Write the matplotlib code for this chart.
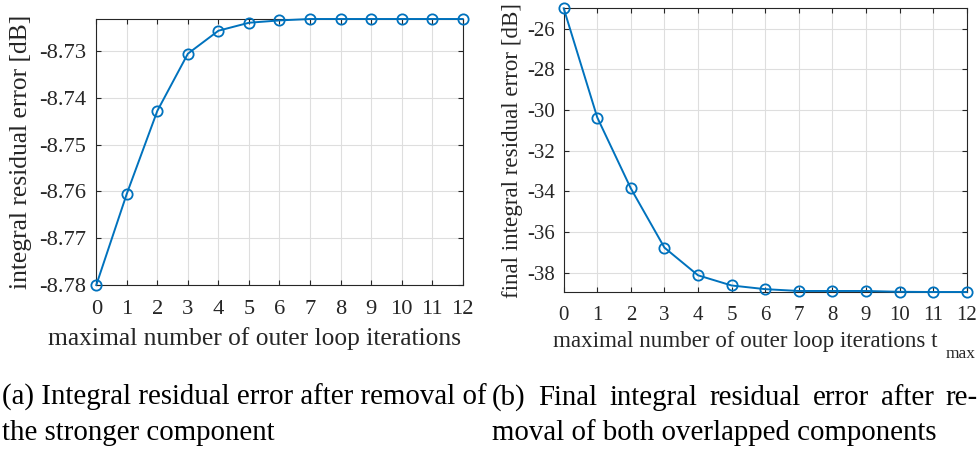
import matplotlib
matplotlib.use('Agg')
import matplotlib.pyplot as plt

# data
iters = list(range(13))
err_a = [-8.7800, -8.7605, -8.7428, -8.7306, -8.7257, -8.7240, -8.7235,
         -8.7232, -8.7232, -8.7232, -8.7232, -8.7232, -8.7232]
err_b = [-25.00, -30.37, -33.86, -36.77, -38.13, -38.63, -38.81,
         -38.90, -38.90, -38.90, -38.94, -38.95, -38.95]
yticks_a = [-8.78, -8.77, -8.76, -8.75, -8.74, -8.73]
yticks_b = [-38, -36, -34, -32, -30, -28, -26]

xlabel = 'maximal number of outer loop iterations'
ylabel_a = 'integral residual error [dB]'
ylabel_b = 'final integral residual error [dB]'
cap_a = ['(a) Integral residual error after removal of', 'the stronger component']
cap_b1 = ['(b)', 'Final', 'integral', 'residual', 'error', 'after', 're-']
cap_b2 = 'moval of both overlapped components'

plt.rcParams['font.family'] = ['Liberation Serif', 'DejaVu Serif']
plt.rcParams['axes.unicode_minus'] = False

W, H = 979, 455
blue = '#0072BD'
dark = '#262626'

fig = plt.figure(figsize=(W / 100, H / 100), dpi=100)
ax1 = fig.add_axes([96.3 / W, 1 - 285 / H, 366.4 / W, 266 / H])
ax2 = fig.add_axes([563.7 / W, 1 - 292 / H, 403 / W, 283.7 / H])


def style(ax, x, y, yticks, fmt, fs):
    ax.plot(x, y, color=blue, lw=1.4, marker='o', ms=7.4, mfc='none',
            mec=blue, mew=1.3, clip_on=False, zorder=3)
    ax.set_xlim(min(x), max(x))
    ax.set_ylim(min(y), max(y))
    ax.set_xticks(x)
    ax.set_yticks(yticks)
    ax.set_yticklabels([fmt.format(v) for v in yticks])
    ax.grid(True, color='#dedede', lw=0.8)
    ax.set_axisbelow(True)
    ax.tick_params(direction='in', top=True, right=True, length=3.6,
                   width=0.8, colors=dark, labelsize=fs)
    for s in ax.spines.values():
        s.set_color(dark)
        s.set_linewidth(0.8)


style(ax1, iters, err_a, yticks_a, '{:.2f}', 16.2)
style(ax2, iters, err_b, yticks_b, '{:.0f}', 15)
ax1.tick_params(axis='x', pad=11)
ax2.tick_params(axis='x', pad=10)
ax1.tick_params(axis='y', pad=7.5)
ax2.tick_params(axis='y', pad=6.3)

ax1.set_xlabel(xlabel, fontsize=18.4, color=dark, va='baseline')
ax1.xaxis.set_label_coords(0.433, -0.2256)
ax1.set_ylabel(ylabel_a, fontsize=18.4, color=dark, va='center')
ax1.yaxis.set_label_coords(-0.2055, 0.5)

ax2.set_xlabel(xlabel + ' t', fontsize=16.6, color=dark, va='baseline')
ax2.xaxis.set_label_coords(0.45, -0.194)
ax2.text(946, H - 358, 'max', transform=None, fontsize=12.5, color=dark,
         va='baseline', ha='left')
ax2.set_ylabel(ylabel_b, fontsize=16.6, color=dark, va='center')
ax2.yaxis.set_label_coords(-0.126, 0.5)

# captions
cap_fs = 20.8
fig.text(2 / W, 1 - 405 / H, cap_a[0], fontsize=cap_fs, va='baseline')
fig.text(2 / W, 1 - 440 / H, cap_a[1], fontsize=cap_fs, va='baseline')
fig.text(492 / W, 1 - 440 / H, cap_b2, fontsize=cap_fs, va='baseline')

# justified first line of caption (b)
fig.canvas.draw()
r = fig.canvas.get_renderer()
words = [fig.text(0, 1 - 405 / H, w, fontsize=cap_fs, va='baseline') for w in cap_b1]
widths = [t.get_window_extent(r).width for t in words]
x0, x1 = 492, 978
gap = (x1 - x0 - sum(widths)) / (len(words) - 1)
x = x0
for t, w in zip(words, widths):
    t.set_x(x / W)
    x += w + gap

fig.savefig('out.png', dpi=100)
